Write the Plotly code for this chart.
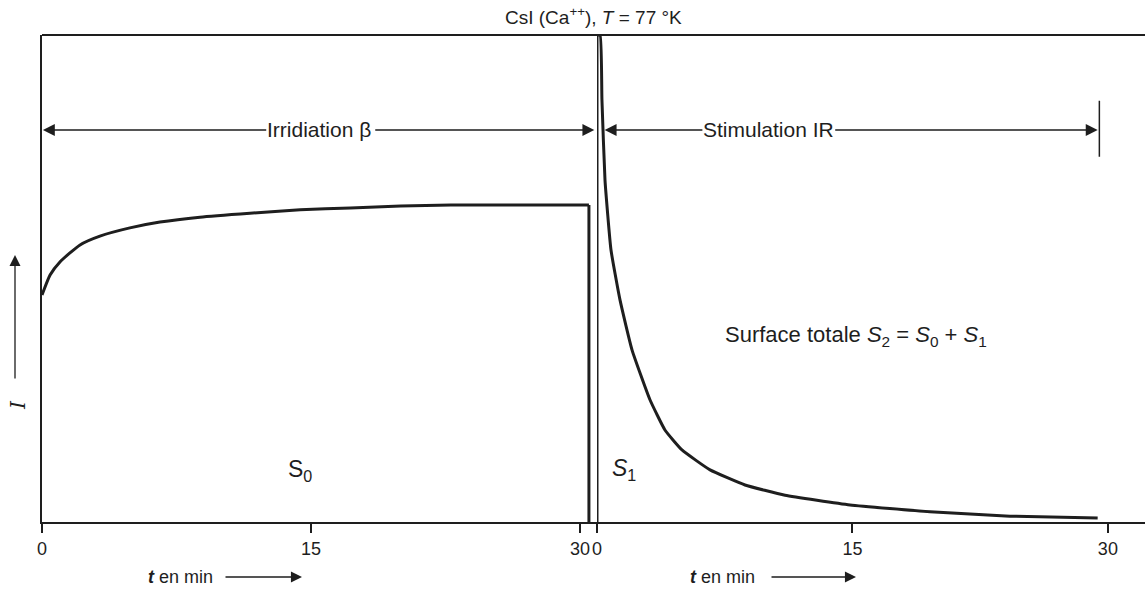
import plotly.graph_objects as go

# ---- data ----
left_t = [0, 0.45, 1.0, 2.12, 3.23, 4.9, 6.58, 8.81, 11.6, 14.4, 17.2, 20.0, 22.8, 25.5, 30.5]
left_I = [46.6, 50.7, 53.4, 56.9, 58.7, 60.4, 61.6, 62.6, 63.4, 64.1, 64.5, 64.9, 65.1, 65.1, 65.1]
left_drop_t = [30.5, 30.5]
left_drop_I = [65.1, 0]

right_rise_t = [0, 0]
right_rise_I = [0, 100]
right_t = [0, 0.18, 0.29, 0.47, 0.82, 1.35, 2.06, 3.11, 3.99, 4.99, 6.64, 8.69, 11.04, 14.86, 19.55, 24.25, 29.4]
right_I = [100, 100, 86.7, 70.2, 55.9, 45.6, 35.3, 25.1, 18.9, 14.8, 10.7, 7.6, 5.5, 3.5, 2.1, 1.2, 0.8]

tick_vals = [0, 15, 30]
tick_text = ["0", "15", "30"]

INK = "#1e1e1e"
FONT = "Liberation Sans, Arial, sans-serif"

fig = go.Figure()
line = dict(color=INK, width=3)
fig.add_trace(go.Scatter(x=left_t, y=left_I, mode="lines",
                         line=dict(color=INK, width=3, shape="spline", smoothing=0.5), xaxis="x", yaxis="y"))
fig.add_trace(go.Scatter(x=left_drop_t, y=left_drop_I, mode="lines", line=line, xaxis="x", yaxis="y"))
fig.add_trace(go.Scatter(x=right_rise_t, y=right_rise_I, mode="lines", line=line, xaxis="x2", yaxis="y"))
fig.add_trace(go.Scatter(x=right_t, y=right_I, mode="lines",
                         line=dict(color=INK, width=3, shape="spline", smoothing=0.4), xaxis="x2", yaxis="y"))

axis_common = dict(
    tickvals=tick_vals, ticktext=tick_text, ticks="outside", ticklen=9, tickwidth=2,
    tickcolor=INK, showline=True, linewidth=2, linecolor=INK, showgrid=False,
    zeroline=False, anchor="y", tickfont=dict(family=FONT, size=18, color=INK),
)
split = (597 - 42) / 1103
fig.update_layout(
    width=1145, height=589,
    margin=dict(l=42, r=0, t=35, b=67),
    plot_bgcolor="white", paper_bgcolor="white", showlegend=False,
    xaxis=dict(domain=[0, split], range=[0, 30.95], **axis_common),
    xaxis2=dict(domain=[split, 1], range=[0, 32.18], **axis_common),
    yaxis=dict(range=[0, 100], showline=True, linewidth=2, linecolor=INK,
               showticklabels=False, ticks="", showgrid=False, zeroline=False),
    font=dict(family=FONT, color=INK),
)

# top frame line
fig.add_shape(type="line", xref="paper", yref="paper", x0=0, x1=1, y0=1, y1=1,
              line=dict(color=INK, width=2))
# end marker of stimulation
fig.add_shape(type="line", xref="x2", yref="y", x0=29.5, x1=29.5, y0=75, y1=86.5,
              line=dict(color=INK, width=1.5))

arrow_y = 80.5


def arrow(xref, head, tail, y):
    fig.add_annotation(xref=xref, yref="y", x=head, y=y, axref=xref, ayref="y", ax=tail, ay=y,
                       text="", showarrow=True, arrowhead=2, arrowsize=1.7, arrowwidth=1.4,
                       arrowcolor=INK)


def label(xref, yref, x, y, text, size, family=FONT, **kw):
    fig.add_annotation(xref=xref, yref=yref, x=x, y=y, text=text, showarrow=False,
                       xanchor="center", yanchor="middle",
                       font=dict(family=family, size=size, color=INK), **kw)


# Irradiation arrows
arrow("x", 0.05, 12.6, arrow_y)
arrow("x", 30.8, 18.5, arrow_y)
label("x", "y", 15.45, arrow_y, "Irridiation β", 21, bgcolor="white", borderpad=0)
# Stimulation arrows
arrow("x2", 0.45, 6.3, arrow_y)
arrow("x2", 29.4, 13.9, arrow_y)
label("x2", "y", 10.05, arrow_y, "Stimulation IR", 21, bgcolor="white", borderpad=0)

# title
label("paper", "paper", (593 - 42) / 1103, 1, "CsI (Ca<sup>++</sup>), <i>T</i> = 77 °K", 19, yshift=19)

# region labels
label("x", "y", 14.4, 10.5, "S<sub>0</sub>", 23)
label("x2", "y", 1.6, 10.8, "<i>S</i><sub>1</sub>", 23)
label("x2", "y", 15.2, 38.2,
      "Surface totale <i>S</i><sub>2</sub> = <i>S</i><sub>0</sub> + <i>S</i><sub>1</sub>", 22)

# y label and arrow
label("paper", "y", (18 - 42) / 1103, (522 - 405) / 4.87, "<i>I</i>", 20,
      family="DejaVu Serif, serif", textangle=-90)
fig.add_annotation(xref="paper", yref="y", x=(15 - 42) / 1103, y=(522 - 255) / 4.87,
                   ax=0, ay=125, text="", showarrow=True, arrowhead=2, arrowsize=1.7,
                   arrowwidth=1.3, arrowcolor=INK)

# bottom "t en min" labels with arrows
yb = -(577 - 522) / 487
label("paper", "paper", (180 - 42) / 1103, yb, "<i><b>t</b></i> en min", 18)
fig.add_annotation(xref="paper", yref="paper", x=(302 - 42) / 1103, y=yb, ax=-78, ay=0,
                   text="", showarrow=True, arrowhead=2, arrowsize=1.7, arrowwidth=1.3, arrowcolor=INK)
label("paper", "paper", (722 - 42) / 1103, yb, "<i><b>t</b></i> en min", 18)
fig.add_annotation(xref="paper", yref="paper", x=(856 - 42) / 1103, y=yb, ax=-86, ay=0,
                   text="", showarrow=True, arrowhead=2, arrowsize=1.7, arrowwidth=1.3, arrowcolor=INK)

fig.write_html("out.html", config={"displayModeBar": False},
               post_script="document.body.style.margin='0';")
